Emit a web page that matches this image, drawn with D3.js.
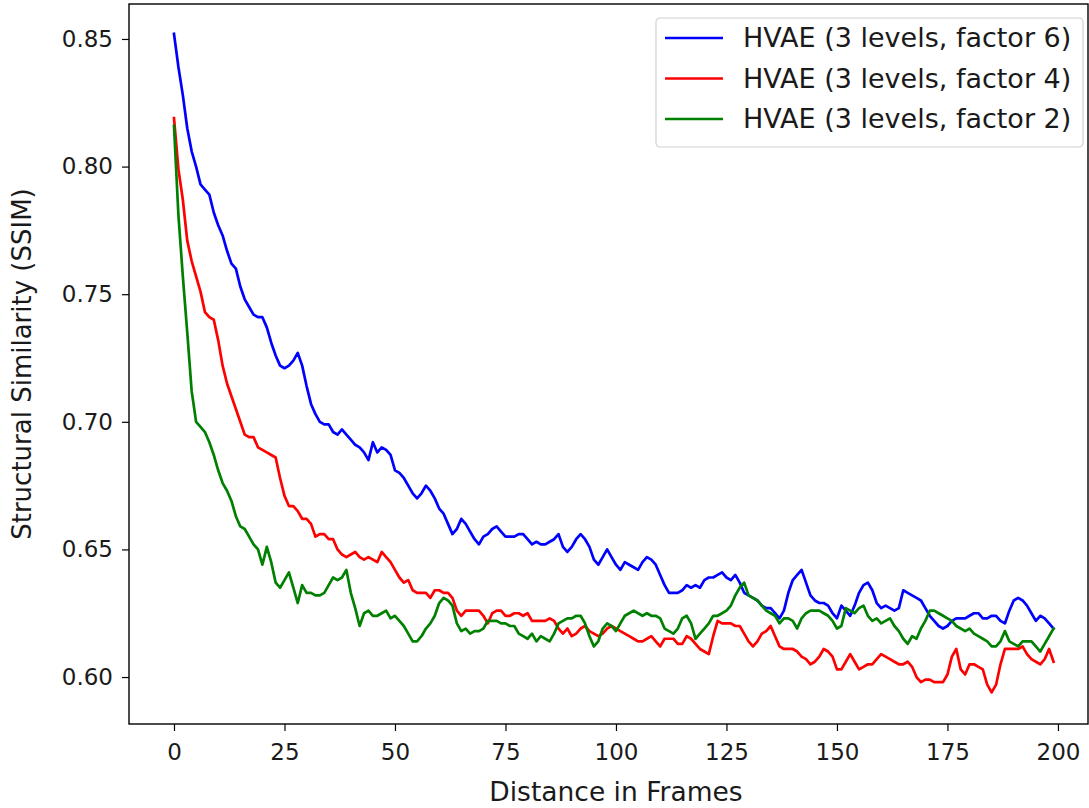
<!DOCTYPE html>
<html>
<head>
<meta charset="utf-8">
<script src="https://cdn.jsdelivr.net/npm/d3@7"></script>
<style>
  html, body { margin: 0; padding: 0; background: #fff; }
  svg { display: block; font-family: "DejaVu Sans", sans-serif; }
</style>
</head>
<body>
<script>
"use strict";
// SSIM per frame distance (frames 0..199)
const factor6 = [
  0.852,0.839,0.828,0.815,0.806,0.800,0.793,0.791,0.789,0.782,
  0.777,0.773,0.767,0.762,0.760,0.753,0.748,0.745,0.742,0.741,
  0.741,0.737,0.731,0.726,0.722,0.721,0.722,0.724,0.727,0.722,
  0.714,0.707,0.703,0.700,0.699,0.699,0.696,0.695,0.697,0.695,
  0.693,0.691,0.690,0.688,0.685,0.692,0.688,0.690,0.689,0.687,
  0.681,0.680,0.678,0.675,0.672,0.670,0.672,0.675,0.673,0.670,
  0.666,0.664,0.660,0.656,0.658,0.662,0.660,0.657,0.654,0.652,
  0.655,0.656,0.658,0.659,0.657,0.655,0.655,0.655,0.656,0.656,
  0.654,0.652,0.653,0.652,0.652,0.653,0.654,0.656,0.651,0.649,
  0.651,0.654,0.656,0.654,0.651,0.646,0.644,0.647,0.650,0.647,
  0.644,0.642,0.645,0.644,0.643,0.642,0.645,0.647,0.646,0.644,
  0.640,0.636,0.633,0.633,0.633,0.634,0.636,0.635,0.636,0.635,
  0.638,0.639,0.639,0.640,0.641,0.639,0.638,0.640,0.637,0.633,
  0.632,0.631,0.630,0.628,0.627,0.627,0.625,0.623,0.626,0.633,
  0.638,0.640,0.642,0.637,0.632,0.630,0.629,0.629,0.628,0.625,
  0.623,0.628,0.626,0.624,0.628,0.633,0.636,0.637,0.634,0.629,
  0.627,0.628,0.627,0.626,0.627,0.634,0.633,0.632,0.631,0.630,
  0.627,0.624,0.622,0.620,0.619,0.620,0.622,0.623,0.623,0.623,
  0.624,0.625,0.625,0.623,0.623,0.624,0.624,0.622,0.621,0.626,
  0.630,0.631,0.630,0.628,0.625,0.622,0.624,0.623,0.621,0.619
];
const factor4 = [
  0.819,0.799,0.787,0.771,0.763,0.757,0.751,0.743,0.741,0.740,
  0.732,0.722,0.715,0.710,0.705,0.700,0.695,0.694,0.694,0.690,
  0.689,0.688,0.687,0.686,0.678,0.671,0.667,0.667,0.665,0.662,
  0.662,0.660,0.655,0.656,0.656,0.654,0.654,0.650,0.648,0.647,
  0.648,0.649,0.647,0.646,0.647,0.646,0.645,0.649,0.647,0.645,
  0.642,0.639,0.637,0.638,0.634,0.633,0.633,0.633,0.631,0.634,
  0.634,0.633,0.633,0.631,0.626,0.624,0.626,0.626,0.626,0.626,
  0.624,0.621,0.625,0.626,0.626,0.624,0.624,0.625,0.625,0.624,
  0.625,0.622,0.622,0.622,0.622,0.623,0.622,0.619,0.617,0.619,
  0.616,0.617,0.619,0.620,0.618,0.617,0.616,0.617,0.619,0.620,
  0.619,0.618,0.617,0.616,0.615,0.614,0.614,0.615,0.616,0.614,
  0.612,0.615,0.615,0.615,0.613,0.613,0.616,0.615,0.613,0.611,
  0.610,0.609,0.616,0.622,0.621,0.621,0.621,0.620,0.620,0.617,
  0.614,0.612,0.614,0.617,0.618,0.620,0.616,0.612,0.611,0.611,
  0.611,0.610,0.608,0.607,0.605,0.606,0.608,0.611,0.610,0.608,
  0.603,0.603,0.606,0.609,0.606,0.603,0.604,0.605,0.605,0.607,
  0.609,0.608,0.607,0.606,0.605,0.605,0.606,0.604,0.600,0.598,
  0.599,0.599,0.598,0.598,0.598,0.601,0.608,0.611,0.603,0.601,
  0.605,0.605,0.604,0.603,0.597,0.594,0.597,0.605,0.611,0.611,
  0.611,0.611,0.612,0.609,0.607,0.606,0.605,0.607,0.611,0.606
];
const factor2 = [
  0.816,0.781,0.757,0.735,0.712,0.700,0.698,0.696,0.692,0.687,
  0.681,0.676,0.673,0.669,0.663,0.659,0.658,0.655,0.652,0.650,
  0.644,0.651,0.645,0.637,0.635,0.638,0.641,0.635,0.629,0.636,
  0.633,0.633,0.632,0.632,0.633,0.636,0.639,0.638,0.639,0.642,
  0.633,0.627,0.620,0.625,0.626,0.624,0.624,0.625,0.626,0.623,
  0.624,0.622,0.620,0.617,0.614,0.614,0.616,0.619,0.621,0.624,
  0.629,0.631,0.630,0.628,0.621,0.618,0.619,0.617,0.618,0.618,
  0.619,0.622,0.622,0.622,0.621,0.621,0.620,0.620,0.617,0.616,
  0.615,0.617,0.614,0.616,0.615,0.614,0.617,0.621,0.622,0.623,
  0.623,0.624,0.624,0.621,0.616,0.612,0.614,0.619,0.621,0.620,
  0.618,0.621,0.624,0.625,0.626,0.625,0.624,0.625,0.624,0.624,
  0.623,0.619,0.618,0.617,0.619,0.623,0.624,0.621,0.615,0.617,
  0.619,0.621,0.624,0.624,0.625,0.626,0.628,0.632,0.635,0.637,
  0.632,0.631,0.630,0.628,0.626,0.625,0.624,0.621,0.623,0.623,
  0.622,0.619,0.623,0.625,0.626,0.626,0.626,0.625,0.624,0.622,
  0.619,0.620,0.627,0.626,0.625,0.627,0.628,0.624,0.622,0.623,
  0.621,0.622,0.623,0.620,0.618,0.615,0.613,0.616,0.615,0.619,
  0.622,0.626,0.626,0.625,0.624,0.623,0.622,0.620,0.619,0.618,
  0.619,0.617,0.616,0.615,0.614,0.612,0.612,0.614,0.618,0.614,
  0.613,0.612,0.614,0.614,0.614,0.612,0.610,0.613,0.616,0.619
];
const seriesNames = ["HVAE (3 levels, factor 6)", "HVAE (3 levels, factor 4)", "HVAE (3 levels, factor 2)"];
const seriesColors = ["#0000ff", "#ff0000", "#008000"];
const xTicks = [0, 25, 50, 75, 100, 125, 150, 175, 200];
const yTicks = [0.60, 0.65, 0.70, 0.75, 0.80, 0.85];

const size = {"width": 1089, "height": 808};
const plot = {"left": 129, "right": 1088, "top": 4, "bottom": 724};

const svg = d3.select("body").append("svg").attr("width", size.width).attr("height", size.height);

const xScale = d3.scaleLinear().domain([-10.18, 206.8]).range([plot.left, plot.right]);
const yScale = d3.scaleLinear().domain([0.5816, 0.8637]).range([plot.bottom, plot.top]);

const allSeries = [factor6, factor4, factor2];
const line = d3.line().x((d, i) => xScale(i)).y(d => yScale(d));

svg.append("defs").append("clipPath").attr("id", "plotclip")
  .append("rect").attr("x", plot.left).attr("y", plot.top)
  .attr("width", plot.right - plot.left).attr("height", plot.bottom - plot.top);

svg.append("g").attr("clip-path", "url(#plotclip)")
  .selectAll("path")
  .data(allSeries)
  .enter()
  .append("path")
  .attr("d", d => line(d))
  .attr("fill", "none")
  .attr("stroke", (d, i) => seriesColors[i])
  .attr("stroke-width", 2.7)
  .attr("stroke-linejoin", "round")
  .attr("stroke-linecap", "square");

// axes
const xAxis = d3.axisBottom(xScale).tickValues(xTicks).tickFormat(d3.format("d")).tickSize(7).tickPadding(13);
const gx = svg.append("g").attr("transform", "translate(0," + plot.bottom + ")").call(xAxis);
const yAxis = d3.axisLeft(yScale).tickValues(yTicks).tickFormat(d3.format(".2f")).tickSize(7).tickPadding(9);
const gy = svg.append("g").attr("transform", "translate(" + plot.left + ",0)").call(yAxis);
[gx, gy].forEach(g => {
  g.select(".domain").remove();
  g.selectAll(".tick line").attr("stroke", "#000").attr("stroke-width", 1.2);
  g.selectAll(".tick text").attr("fill", "#1a1a1a").style("font-size", "23px").style("font-family", "DejaVu Sans");
});

// frame
svg.append("rect")
  .attr("x", plot.left).attr("y", plot.top)
  .attr("width", plot.right - plot.left).attr("height", plot.bottom - plot.top)
  .attr("fill", "none").attr("stroke", "#000").attr("stroke-width", 1.4);

// axis titles
svg.append("text").attr("x", (xScale(0) + xScale(200)) / 2).attr("y", 801)
  .attr("text-anchor", "middle").style("font-size", "26.5px").attr("fill", "#1a1a1a")
  .text("Distance in Frames");
svg.append("text").attr("transform", "translate(31," + ((plot.top + plot.bottom) / 2) + ") rotate(-90)")
  .attr("text-anchor", "middle").style("font-size", "26px").attr("fill", "#1a1a1a")
  .text("Structural Similarity (SSIM)");

// legend
const legend = svg.append("g").attr("transform", "translate(656,18)");
legend.append("rect").attr("width", 427).attr("height", 129).attr("rx", 4)
  .attr("fill", "#fff").attr("fill-opacity", 0.8).attr("stroke", "#d0d0d0").attr("stroke-width", 1.2);
const rows = legend.selectAll("g.row").data(seriesNames).enter().append("g")
  .attr("transform", (d, i) => "translate(0," + (20 + i * 40.5) + ")");
rows.append("line").attr("x1", 9).attr("x2", 67).attr("y1", 0).attr("y2", 0)
  .attr("stroke", (d, i) => seriesColors[i]).attr("stroke-width", 2.7);
rows.append("text").attr("x", 87).attr("y", 0).attr("dy", "0.35em")
  .style("font-size", "27px").attr("fill", "#1a1a1a").text(d => d);
</script>
</body>
</html>
